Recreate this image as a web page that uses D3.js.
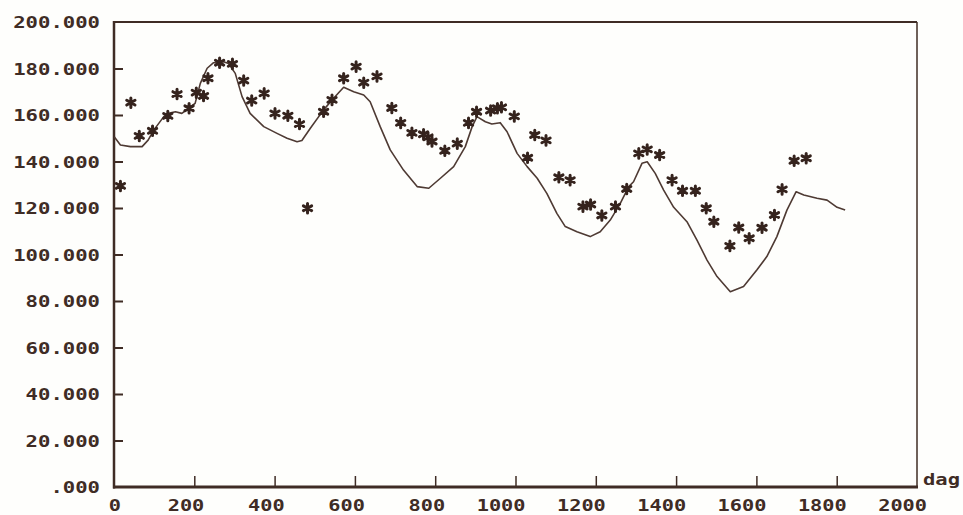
<!DOCTYPE html>
<html>
<head>
<meta charset="utf-8">
<script src="https://cdn.jsdelivr.net/npm/d3@7"></script>
<style>
  html, body { margin: 0; padding: 0; background: #fefefc; }
  svg { display: block; }
  .lbl { font-family: "DejaVu Sans Mono", monospace; font-weight: bold; fill: #3f2c25; }
</style>
</head>
<body>
<svg id="chart" width="963" height="515"></svg>
<script>
// Observed values (asterisks): day, value
const obsDays = [16, 42, 63, 96, 134, 157, 187, 205, 223, 234, 263, 295, 323, 343, 374, 401, 433, 462, 482,
  522, 543, 572, 603, 622, 655, 692, 714, 742, 771, 782, 792, 824, 855, 883, 903, 938, 955, 965, 997,
  1030, 1048, 1076, 1108, 1136, 1168, 1187, 1215, 1249, 1277, 1307, 1328, 1359, 1390, 1416, 1448, 1475,
  1494, 1534, 1556, 1582, 1614, 1645, 1664, 1694, 1724];
const obsValues = [129.5, 165.3, 151, 153.2, 159.6, 169, 162.9, 169.6, 168.2, 175.8, 182.5, 182, 174.8, 166.2, 169.3, 160.7, 159.7, 156.1, 119.9,
  161.4, 166.5, 175.8, 180.8, 173.9, 176.6, 163, 156.6, 152.3, 151.7, 150.4, 148.6, 144.6, 147.7, 156.6, 161.4, 161.9, 162.9, 163.3, 159.4,
  141.6, 151.4, 149.1, 133.2, 132, 120.6, 121.5, 116.8, 120.6, 128.2, 143.5, 145.2, 142.8, 132, 127.4, 127.4, 119.9,
  114.1, 103.7, 111.6, 107, 111.5, 117, 128, 140.3, 141.4];

// Model curve: day, value
const modelDays = [1, 16, 41, 70, 85, 99, 124, 136, 153, 169, 186, 202, 215, 232, 248, 273, 285, 302, 319, 339,
  373, 406, 431, 456, 468, 489, 522, 547, 572, 597, 622, 638, 663, 688, 721, 755, 784, 813, 846, 875, 892,
  904, 925, 941, 962, 979, 1004, 1029, 1054, 1078, 1103, 1124, 1153, 1186, 1211, 1236, 1261, 1282, 1294,
  1315, 1328, 1348, 1369, 1394, 1427, 1452, 1477, 1502, 1535, 1568, 1601, 1626, 1651, 1676, 1699, 1718,
  1751, 1776, 1801, 1821];
const modelValues = [150.5, 147.1, 146.4, 146.4, 149.2, 153.5, 159.3, 160.7, 161.4, 160.7, 162.9, 165, 173.6, 180.1, 182.5, 182.9, 182.2, 177.9, 167.9, 160.7,
  155, 152.1, 150, 148.5, 149, 154.3, 162.2, 167.2, 171.9, 170, 168.6, 165.7, 155, 145, 136.3, 129.2, 128.5, 132.8, 137.8, 146.4, 155,
  159.3, 157.1, 156.1, 156.7, 152.8, 143.5, 137.8, 132.8, 126.3, 117.7, 112, 109.8, 107.7, 109.8, 114.8, 122, 129.2, 131.3,
  139.2, 139.9, 134.9, 127.7, 120.3, 114.1, 106.2, 97.6, 90.5, 84, 86.2, 93.3, 99.1, 107.7, 119.1, 127, 125.6,
  124.2, 123.4, 120.3, 119.1];

// Axis ticks and their labels
const xTicks = [0, 200, 400, 600, 800, 1000, 1200, 1400, 1600, 1800, 2000];
const xTickLabels = ["0", "200", "400", "600", "800", "1000", "1200", "1400", "1600", "1800", "2000"];
const yTicks = [0, 20, 40, 60, 80, 100, 120, 140, 160, 180, 200];
const yTickLabels = [".000", "20.000", "40.000", "60.000", "80.000", "100.000", "120.000", "140.000", "160.000", "180.000", "200.000"];
const xAxisTitle = "dag";

const ink = "#3f2c25";
const svg = d3.select("#chart");

const x = d3.scaleLinear().domain([0, 2000]).range([114, 917]);
const y = d3.scaleLinear().domain([0, 200]).range([487, 22]);

const charW = 12.4;

// Frame
const frame = svg.append("g").attr("stroke", ink).attr("fill", "none");
frame.append("line").attr("x1", x(0)).attr("x2", x(2000)).attr("y1", y(200)).attr("y2", y(200)).attr("stroke-width", 2);
frame.append("line").attr("x1", x(2000)).attr("x2", x(2000)).attr("y1", y(200)).attr("y2", y(0)).attr("stroke-width", 1.5);
frame.append("line").attr("x1", x(0)).attr("x2", x(0)).attr("y1", y(200) - 1).attr("y2", y(0) + 1.5).attr("stroke-width", 2.5);
frame.append("line").attr("x1", x(0) - 1).attr("x2", x(2000) + 1).attr("y1", y(0)).attr("y2", y(0)).attr("stroke-width", 3);

// Y axis: inward ticks
const yAxis = d3.axisLeft(y)
  .tickValues(yTicks.filter(v => v > 0 && v < 200))
  .tickSize(-9)
  .tickFormat("");
const gy = svg.append("g").attr("transform", `translate(${x(0)},0)`).call(yAxis);
gy.select(".domain").remove();
gy.selectAll(".tick line").attr("stroke", ink).attr("stroke-width", 2);

svg.append("g").selectAll("text")
  .data(yTicks)
  .join("text")
  .attr("class", "lbl")
  .attr("x", 100)
  .attr("y", d => y(d) + 6)
  .attr("text-anchor", "end")
  .attr("font-size", 16.5)
  .attr("textLength", (d, i) => yTickLabels[i].length * charW)
  .attr("lengthAdjust", "spacingAndGlyphs")
  .text((d, i) => yTickLabels[i]);

// X axis: upward ticks
const xAxis = d3.axisBottom(x)
  .tickValues(xTicks.filter(v => v > 0 && v < 2000))
  .tickSize(-11)
  .tickFormat("");
const gx = svg.append("g").attr("transform", `translate(0,${y(0)})`).call(xAxis);
gx.select(".domain").remove();
gx.selectAll(".tick line").attr("stroke", ink).attr("stroke-width", 1.5);

svg.append("g").selectAll("text")
  .data(xTicks)
  .join("text")
  .attr("class", "lbl")
  .attr("x", d => x(d) + (d === 0 ? 7 : 10))
  .attr("y", 511)
  .attr("text-anchor", "end")
  .attr("font-size", 16.5)
  .attr("textLength", (d, i) => xTickLabels[i].length * 12.2)
  .attr("lengthAdjust", "spacingAndGlyphs")
  .text((d, i) => xTickLabels[i]);

svg.append("text")
  .attr("class", "lbl")
  .attr("x", 923)
  .attr("y", 485)
  .attr("font-size", 15)
  .attr("textLength", 37)
  .attr("lengthAdjust", "spacingAndGlyphs")
  .text(xAxisTitle);

// Model curve
const model = modelDays.map((d, i) => [d, modelValues[i]]);
svg.append("path")
  .datum(model)
  .attr("fill", "none")
  .attr("stroke", "#4e3a33")
  .attr("stroke-width", 1.6)
  .attr("stroke-linejoin", "round")
  .attr("d", d3.line().x(d => x(d[0])).y(d => y(d[1])).curve(d3.curveLinear));

// Observations as asterisks
const obs = obsDays.map((d, i) => [d, obsValues[i]]);
const star = d3.symbol(d3.symbolAsterisk, 64);
svg.append("g").selectAll("path")
  .data(obs)
  .join("path")
  .attr("transform", d => `translate(${x(d[0])},${y(d[1])})`)
  .attr("d", star)
  .attr("fill", "none")
  .attr("stroke", "#35231d")
  .attr("stroke-width", 3)
  .attr("stroke-linecap", "round");
</script>
</body>
</html>
